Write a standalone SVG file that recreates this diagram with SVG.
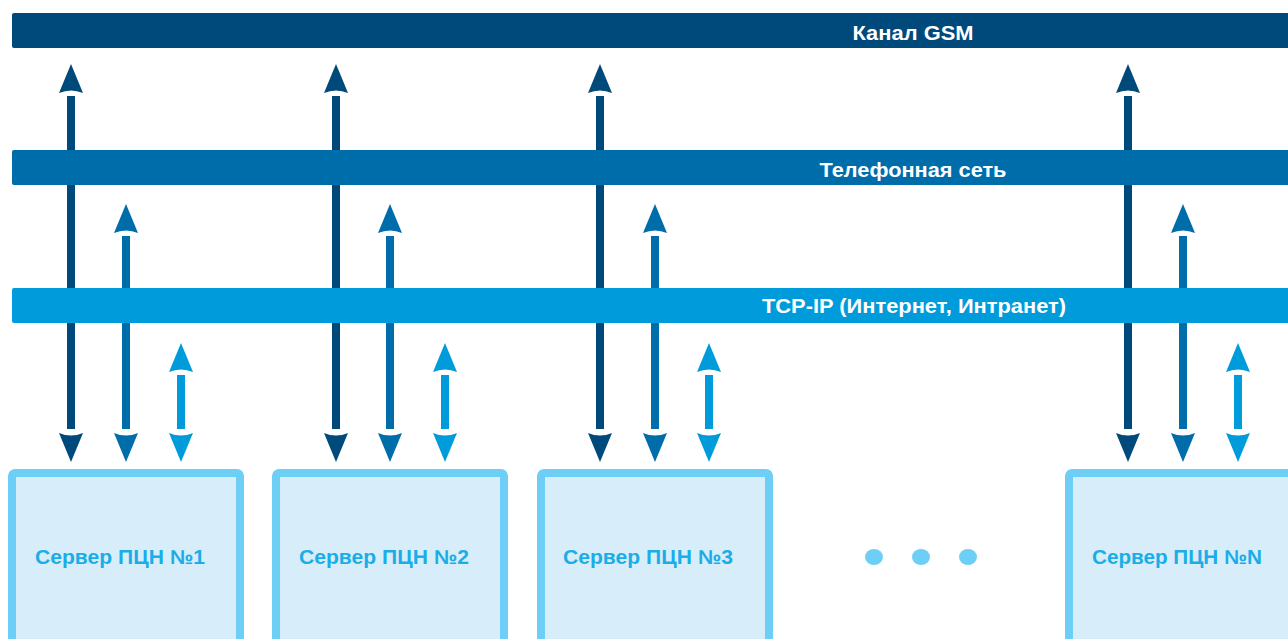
<svg xmlns="http://www.w3.org/2000/svg" xmlns:xlink="http://www.w3.org/1999/xlink" width="1288" height="639" viewBox="0 0 1288 639">
<style>
.bar-gsm{fill:#00497b}
.bar-tel{fill:#006dab}
.bar-tcp{fill:#009bdb}
.bar-label{font-family:"Liberation Sans",Arial,sans-serif;font-weight:bold;font-size:20px;fill:#ffffff;text-anchor:middle}
.box{fill:#d7eefa;stroke:#6dcff6;stroke-width:8}
.box-label{font-family:"Liberation Sans",Arial,sans-serif;font-weight:bold;font-size:20px;fill:#1aade8;text-anchor:middle}
.c-gsm{fill:#00497b}
.c-tel{fill:#006dab}
.c-tcp{fill:#009bdb}
.dot{fill:#6dcff6}
</style>
<defs>
<path id="headUp" d="M0,0 L12,29 Q0,24 -12,29 Z"/>
<path id="headDown" d="M0,0 L12,-29 Q0,-24 -12,-29 Z"/>
</defs>
<g id="connectors">
<g class="c-gsm"><rect x="67" y="96" width="8" height="333"/><use xlink:href="#headUp" x="71" y="64"/><use xlink:href="#headDown" x="71" y="462"/></g>
<g class="c-tel"><rect x="122" y="236" width="8" height="193"/><use xlink:href="#headUp" x="126" y="204"/><use xlink:href="#headDown" x="126" y="462"/></g>
<g class="c-tcp"><rect x="177" y="375" width="8" height="54"/><use xlink:href="#headUp" x="181" y="343"/><use xlink:href="#headDown" x="181" y="462"/></g>
<g class="c-gsm"><rect x="332" y="96" width="8" height="333"/><use xlink:href="#headUp" x="336" y="64"/><use xlink:href="#headDown" x="336" y="462"/></g>
<g class="c-tel"><rect x="386" y="236" width="8" height="193"/><use xlink:href="#headUp" x="390" y="204"/><use xlink:href="#headDown" x="390" y="462"/></g>
<g class="c-tcp"><rect x="441" y="375" width="8" height="54"/><use xlink:href="#headUp" x="445" y="343"/><use xlink:href="#headDown" x="445" y="462"/></g>
<g class="c-gsm"><rect x="596" y="96" width="8" height="333"/><use xlink:href="#headUp" x="600" y="64"/><use xlink:href="#headDown" x="600" y="462"/></g>
<g class="c-tel"><rect x="651" y="236" width="8" height="193"/><use xlink:href="#headUp" x="655" y="204"/><use xlink:href="#headDown" x="655" y="462"/></g>
<g class="c-tcp"><rect x="705" y="375" width="8" height="54"/><use xlink:href="#headUp" x="709" y="343"/><use xlink:href="#headDown" x="709" y="462"/></g>
<g class="c-gsm"><rect x="1124" y="96" width="8" height="333"/><use xlink:href="#headUp" x="1128" y="64"/><use xlink:href="#headDown" x="1128" y="462"/></g>
<g class="c-tel"><rect x="1179" y="236" width="8" height="193"/><use xlink:href="#headUp" x="1183" y="204"/><use xlink:href="#headDown" x="1183" y="462"/></g>
<g class="c-tcp"><rect x="1234" y="375" width="8" height="54"/><use xlink:href="#headUp" x="1238" y="343"/><use xlink:href="#headDown" x="1238" y="462"/></g>
</g>
<g id="bar-gsm">
<rect class="bar-gsm" x="12" y="13" width="1290" height="35" rx="2"/>
<text class="bar-label" x="913" y="40" textLength="121" lengthAdjust="spacingAndGlyphs">Канал GSM</text>
</g>
<g id="bar-tel">
<rect class="bar-tel" x="12" y="150" width="1290" height="35" rx="2"/>
<text class="bar-label" x="913" y="177" textLength="187" lengthAdjust="spacingAndGlyphs">Телефонная сеть</text>
</g>
<g id="bar-tcp">
<rect class="bar-tcp" x="12" y="288" width="1290" height="35" rx="2"/>
<text class="bar-label" x="914" y="313" textLength="304" lengthAdjust="spacingAndGlyphs">TCP-IP (Интернет, Интранет)</text>
</g>
<g id="server-1">
<rect class="box" x="12" y="473" width="228" height="200" rx="3"/>
<text class="box-label" x="120" y="564" textLength="170" lengthAdjust="spacingAndGlyphs">Сервер ПЦН №1</text>
</g>
<g id="server-2">
<rect class="box" x="276" y="473" width="228" height="200" rx="3"/>
<text class="box-label" x="384" y="564" textLength="170" lengthAdjust="spacingAndGlyphs">Сервер ПЦН №2</text>
</g>
<g id="server-3">
<rect class="box" x="541" y="473" width="228" height="200" rx="3"/>
<text class="box-label" x="648" y="564" textLength="170" lengthAdjust="spacingAndGlyphs">Сервер ПЦН №3</text>
</g>
<g id="ellipsis">
<ellipse class="dot" cx="874" cy="557" rx="9" ry="8"/>
<ellipse class="dot" cx="921" cy="557" rx="9" ry="8"/>
<ellipse class="dot" cx="968" cy="557" rx="9" ry="8"/>
</g>
<g id="server-n">
<rect class="box" x="1069" y="473" width="228" height="200" rx="3"/>
<text class="box-label" x="1177" y="564" textLength="170" lengthAdjust="spacingAndGlyphs">Сервер ПЦН №N</text>
</g>
</svg>
